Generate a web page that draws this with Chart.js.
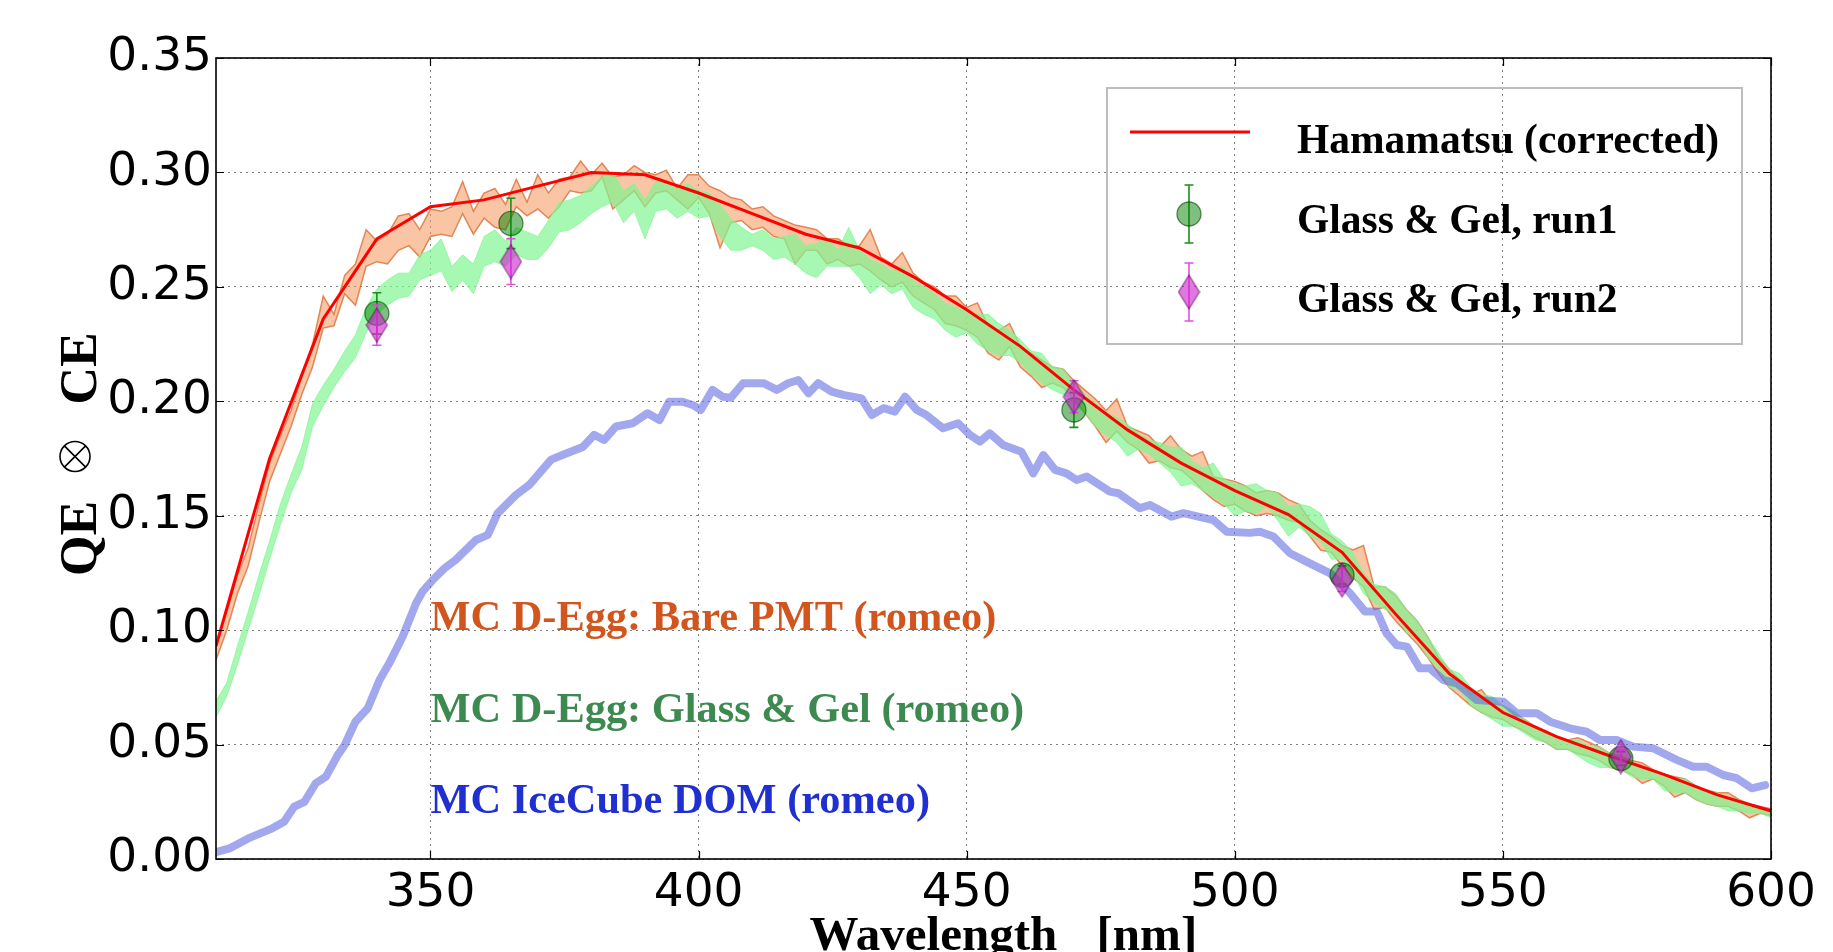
<!DOCTYPE html>
<html>
<head>
<meta charset="utf-8">
<script src="https://cdn.jsdelivr.net/npm/chart.js@4.4.1/dist/chart.umd.min.js"></script>
<style>
  html, body { margin: 0; padding: 0; background: #fff; overflow: hidden; }
  canvas { display: block; }
</style>
</head>
<body>
<canvas id="qe" width="1833" height="952"></canvas>
<script>
/* ===== QE x CE vs wavelength: D-Egg MC bands, Hamamatsu curve, IceCube DOM, measured runs ===== */
const xTicks = [350, 400, 450, 500, 550, 600];
const yTicks = [0, 0.05, 0.10, 0.15, 0.20, 0.25, 0.30, 0.35];

// Hamamatsu (corrected), 10 nm steps
const redNm  = [310, 320, 330, 340, 350, 360, 370, 380, 390, 400, 410, 420, 430, 440, 450,
                460, 470, 480, 490, 500, 510, 520, 530, 540, 550, 560, 570, 580, 590, 600];
const redVal = [0.093, 0.175, 0.236, 0.271, 0.285, 0.288, 0.294, 0.300, 0.299, 0.291, 0.282, 0.273, 0.267, 0.2545, 0.240,
                0.224, 0.205, 0.1875, 0.173, 0.161, 0.1505, 0.134, 0.107, 0.081, 0.064, 0.0535, 0.045, 0.037, 0.028, 0.021];

// MC bands (Bare PMT / Glass & Gel), sampled every 2 nm
const bandNm = [
  310,312,314,316,318, 320,322,324,326,328, 330,332,334,336,338, 340,342,344,346,348,
  350,352,354,356,358, 360,362,364,366,368, 370,372,374,376,378, 380,382,384,386,388,
  390,392,394,396,398, 400,402,404,406,408, 410,412,414,416,418, 420,422,424,426,428,
  430,432,434,436,438, 440,442,444,446,448, 450,452,454,456,458, 460,462,464,466,468,
  470,472,474,476,478, 480,482,484,486,488, 490,492,494,496,498, 500,502,504,506,508,
  510,512,514,516,518, 520,522,524,526,528, 530,532,534,536,538, 540,542,544,546,548,
  550,552,554,556,558, 560,562,564,566,568, 570,572,574,576,578, 580,582,584,586,588,
  590,592,594,596,598, 600];
const bareLo = [
  0.087,0.100,0.116,0.128,0.147, 0.165,0.177,0.189,0.203,0.215, 0.232,0.233,0.247,0.242,0.259, 0.261,0.260,0.266,0.268,0.263,
  0.272,0.273,0.272,0.282,0.273, 0.280,0.276,0.275,0.285,0.281, 0.284,0.280,0.285,0.292,0.291, 0.292,0.298,0.284,0.288,0.292,
  0.285,0.291,0.292,0.288,0.284, 0.289,0.282,0.267,0.278,0.279, 0.275,0.276,0.272,0.271,0.260, 0.266,0.266,0.260,0.262,0.259,
  0.260,0.257,0.253,0.250,0.252, 0.246,0.243,0.240,0.234,0.233, 0.231,0.228,0.221,0.218,0.224, 0.215,0.211,0.206,0.208,0.206,
  0.201,0.195,0.189,0.182,0.187, 0.182,0.179,0.173,0.174,0.171, 0.170,0.166,0.161,0.157,0.154, 0.155,0.152,0.150,0.151,0.150,
  0.148,0.147,0.141,0.135,0.134, 0.128,0.123,0.119,0.109,0.110, 0.104,0.099,0.094,0.088,0.081, 0.075,0.071,0.067,0.064,0.062,
  0.061,0.058,0.056,0.053,0.051, 0.048,0.048,0.046,0.045,0.043, 0.040,0.039,0.037,0.033,0.035, 0.032,0.027,0.029,0.026,0.024,
  0.023,0.023,0.021,0.018,0.020, 0.019];
const bareHi = [
  0.094,0.108,0.124,0.136,0.155, 0.173,0.185,0.196,0.211,0.225, 0.246,0.238,0.255,0.260,0.275, 0.270,0.273,0.281,0.282,0.275,
  0.284,0.283,0.285,0.296,0.283, 0.291,0.293,0.286,0.297,0.287, 0.299,0.291,0.297,0.298,0.305, 0.299,0.304,0.298,0.299,0.303,
  0.300,0.299,0.301,0.293,0.299, 0.299,0.294,0.292,0.289,0.288, 0.284,0.285,0.281,0.279,0.277, 0.276,0.275,0.271,0.271,0.268,
  0.268,0.275,0.263,0.260,0.265, 0.256,0.252,0.250,0.246,0.246, 0.241,0.243,0.233,0.231,0.234, 0.224,0.221,0.218,0.215,0.214,
  0.209,0.205,0.201,0.196,0.201, 0.189,0.187,0.185,0.180,0.185, 0.179,0.176,0.178,0.167,0.166, 0.165,0.163,0.160,0.161,0.160,
  0.157,0.155,0.148,0.144,0.141, 0.137,0.135,0.137,0.119,0.119, 0.115,0.109,0.104,0.097,0.088, 0.083,0.078,0.072,0.074,0.068,
  0.067,0.064,0.061,0.058,0.056, 0.053,0.052,0.053,0.051,0.049, 0.046,0.045,0.043,0.042,0.039, 0.037,0.036,0.035,0.032,0.030,
  0.029,0.029,0.026,0.024,0.023, 0.022];
const gelLo = [
  0.062,0.071,0.085,0.100,0.115, 0.131,0.146,0.160,0.170,0.189, 0.198,0.206,0.213,0.219,0.230, 0.238,0.242,0.245,0.246,0.253,
  0.255,0.257,0.248,0.253,0.247, 0.259,0.261,0.259,0.264,0.262, 0.262,0.267,0.274,0.275,0.278, 0.282,0.285,0.287,0.278,0.283,
  0.271,0.283,0.284,0.280,0.283, 0.280,0.281,0.272,0.266,0.266, 0.268,0.266,0.262,0.263,0.260, 0.256,0.254,0.259,0.259,0.259,
  0.254,0.247,0.251,0.247,0.249, 0.241,0.238,0.236,0.231,0.228, 0.230,0.225,0.222,0.220,0.220, 0.217,0.212,0.208,0.205,0.203,
  0.199,0.195,0.189,0.185,0.182, 0.176,0.179,0.177,0.173,0.169, 0.163,0.164,0.161,0.158,0.155, 0.150,0.152,0.151,0.154,0.148,
  0.141,0.145,0.141,0.139,0.131, 0.131,0.125,0.116,0.112,0.109, 0.107,0.099,0.096,0.088,0.083, 0.075,0.074,0.067,0.064,0.061,
  0.058,0.058,0.055,0.052,0.051, 0.048,0.048,0.045,0.042,0.040, 0.040,0.039,0.036,0.035,0.035, 0.030,0.029,0.029,0.026,0.024,
  0.023,0.021,0.021,0.020,0.020, 0.018];
const gelHi = [
  0.069,0.077,0.093,0.108,0.124, 0.139,0.155,0.168,0.180,0.199, 0.207,0.214,0.222,0.229,0.241, 0.249,0.253,0.256,0.256,0.264,
  0.266,0.271,0.259,0.264,0.260, 0.272,0.275,0.270,0.276,0.274, 0.272,0.279,0.287,0.288,0.290, 0.294,0.298,0.300,0.292,0.295,
  0.288,0.296,0.295,0.293,0.295, 0.292,0.291,0.286,0.280,0.276, 0.273,0.275,0.271,0.272,0.273, 0.268,0.269,0.271,0.266,0.276,
  0.266,0.262,0.260,0.257,0.259, 0.253,0.250,0.247,0.243,0.241, 0.240,0.238,0.238,0.234,0.231, 0.227,0.222,0.221,0.215,0.214,
  0.208,0.203,0.199,0.195,0.193, 0.190,0.186,0.183,0.182,0.180, 0.180,0.174,0.171,0.173,0.166, 0.164,0.163,0.164,0.161,0.160,
  0.154,0.155,0.154,0.151,0.142, 0.139,0.134,0.125,0.120,0.119, 0.116,0.109,0.104,0.097,0.090, 0.083,0.081,0.075,0.072,0.071,
  0.067,0.065,0.061,0.058,0.056, 0.053,0.052,0.052,0.049,0.049, 0.046,0.045,0.042,0.040,0.039, 0.036,0.035,0.035,0.032,0.029,
  0.029,0.027,0.026,0.024,0.023, 0.021];

// MC IceCube DOM
const domNm = [
  310,312.5,316,320.5,322.7,324.6,326.5,328.6,330.5,332.7,
  334,336,338.3,340.5,342.3,344.8,347.3,348.5,350.4,352.6,
  354.7,358.5,360.7,362.5,365.9,368.4,372.5,374.6,378.4,380.5,
  382.4,384.6,387.7,390.5,392.7,394.5,397,398.9,400.4,402.6,
  404.5,406,408.3,412.1,414.6,416.7,418.6,420.5,422.3,424.8,
  427,430.4,432.3,434.5,436.6,438.5,440.7,442.5,445.6,448.4,
  450.6,452.5,454.3,456.8,460.2,462.4,464.3,466.5,468.6,470.5,
  472.4,476.7,478.3,482.3,484.2,488.2,490.4,496,498.5,502.8,
  504.7,507.2,510.3,514,517.8,521.5,524.3,526.5,528.3,530.2,
  532.1,534.5,536.4,538.9,541.4,545.1,550.1,552.6,556.3,558.8,
  562.5,565.6,568.1,571.2,574.3,578,582.4,585.5,588,591.1,
  593.6,596.4,598.9];
const domVal = [
  0.003,0.0046,0.009,0.0134,0.0163,0.0229,0.025,0.0331,0.036,0.0454,
  0.0498,0.060,0.0659,0.0782,0.0855,0.0971,0.1117,0.1168,0.1219,0.127,
  0.1307,0.1394,0.1416,0.151,0.159,0.1634,0.1745,0.1765,0.180,0.1853,
  0.1831,0.189,0.1904,0.1948,0.1918,0.1998,0.1998,0.1984,0.1962,0.205,
  0.202,0.2015,0.2079,0.2079,0.205,0.2079,0.2093,0.2035,0.2079,0.2042,
  0.2028,0.2013,0.194,0.197,0.1955,0.202,0.1962,0.194,0.1882,0.1904,
  0.1853,0.1824,0.186,0.1809,0.178,0.1685,0.1765,0.170,0.1685,0.1656,
  0.1671,0.1605,0.1598,0.1533,0.1547,0.1496,0.1511,0.1481,0.143,0.1425,
  0.143,0.1409,0.1336,0.1292,0.1248,0.1161,0.1081,0.1081,0.0986,0.0935,
  0.0928,0.0833,0.0833,0.0782,0.0768,0.0695,0.0687,0.0637,0.0637,0.060,
  0.0571,0.0556,0.052,0.052,0.0491,0.0484,0.0433,0.0403,0.0403,0.0367,
  0.0353,0.0309,0.0323];

// measured points, Glass & Gel
const runNm   = [340, 365, 470, 520, 572];
const run1Val = [0.2384, 0.2777, 0.1962, 0.1241, 0.0439];
const run1Err = [0.009, 0.011, 0.0076, 0.004, 0.003];
const run2Val = [0.2333, 0.2610, 0.2020, 0.1219, 0.0447];
const run2Err = [0.0088, 0.010, 0.007, 0.005, 0.003];

// in-plot labels
const noteText = ["MC D-Egg: Bare PMT (romeo)", "MC D-Egg: Glass & Gel (romeo)", "MC IceCube DOM (romeo)"];
const noteNm   = [350, 350, 350];
const noteVal  = [0.10, 0.06, 0.02];

/* ---- styles ---- */
const C = {
  red: "#ff0000",
  bareFill: "rgba(245,150,90,0.55)", bareEdge: "rgba(215,105,45,0.75)",
  gelFill: "rgba(130,245,145,0.7)",
  dom: "rgba(100,110,225,0.6)",
  run1Fill: "rgba(0,128,0,0.5)", run1Edge: "rgba(0,70,0,0.6)", run1Bar: "#1b8f1b",
  run2Fill: "rgba(205,30,205,0.6)", run2Edge: "rgba(90,0,90,0.6)", run2Bar: "rgba(225,70,225,0.95)",
  notes: ["#d2551e", "#3d8a50", "#1f2fd0"],
};
const SERIF = "'Liberation Serif', 'DejaVu Serif', serif";
const pts = (xs, ys) => xs.map((x, i) => ({ x, y: ys[i] }));

function thinDiamond(w, h, fill, edge) {
  const c = document.createElement("canvas");
  c.width = w + 2; c.height = h + 2;
  const g = c.getContext("2d");
  g.beginPath();
  g.moveTo(c.width / 2, 1); g.lineTo(w + 1, c.height / 2);
  g.lineTo(c.width / 2, h + 1); g.lineTo(1, c.height / 2); g.closePath();
  g.fillStyle = fill; g.fill();
  g.strokeStyle = edge; g.lineWidth = 1.2; g.stroke();
  return c;
}
const diamond = thinDiamond(21, 34, C.run2Fill, C.run2Edge);

function drawBar(ctx, px, y1, y2, color) {
  ctx.strokeStyle = color; ctx.lineWidth = 1.6;
  ctx.beginPath();
  ctx.moveTo(px, y1); ctx.lineTo(px, y2);
  ctx.moveTo(px - 4.5, y1); ctx.lineTo(px + 4.5, y1);
  ctx.moveTo(px - 4.5, y2); ctx.lineTo(px + 4.5, y2);
  ctx.stroke();
}

/* ---- plugins ---- */
const errorBars = {
  id: "errorBars",
  beforeDatasetDraw(chart, args) {
    const ds = chart.data.datasets[args.index];
    if (!ds.errs) return;
    const { x, y } = chart.scales, ctx = chart.ctx;
    ctx.save();
    ds.data.forEach((p, i) => {
      drawBar(ctx, x.getPixelForValue(p.x), y.getPixelForValue(p.y + ds.errs[i]), y.getPixelForValue(p.y - ds.errs[i]), ds.errColor);
    });
    ctx.restore();
  },
};

const decor = {
  id: "decor",
  afterDatasetsDraw(chart) {
    const { ctx, chartArea: a, scales: { x, y } } = chart;
    ctx.save();

    // in-plot labels
    ctx.font = `bold 42.4px ${SERIF}`;
    ctx.textAlign = "left"; ctx.textBaseline = "alphabetic";
    noteText.forEach((t, i) => {
      ctx.fillStyle = C.notes[i];
      ctx.fillText(t, x.getPixelForValue(noteNm[i]), y.getPixelForValue(noteVal[i]));
    });

    // frame + inward ticks on all sides
    ctx.strokeStyle = "#000"; ctx.lineWidth = 1.6;
    ctx.strokeRect(a.left, a.top, a.right - a.left, a.bottom - a.top);
    ctx.lineWidth = 1.2;
    ctx.beginPath();
    xTicks.forEach((v) => {
      const px = Math.round(x.getPixelForValue(v)) + 0.5;
      ctx.moveTo(px, a.bottom); ctx.lineTo(px, a.bottom - 8);
      ctx.moveTo(px, a.top); ctx.lineTo(px, a.top + 8);
    });
    yTicks.forEach((v) => {
      const py = Math.round(y.getPixelForValue(v)) + 0.5;
      ctx.moveTo(a.left, py); ctx.lineTo(a.left + 8, py);
      ctx.moveTo(a.right, py); ctx.lineTo(a.right - 8, py);
    });
    ctx.stroke();

    // legend box
    const L = { x: a.right - 664, y: a.top + 30, w: 635, h: 256 };
    ctx.strokeStyle = "#bdbdbd"; ctx.lineWidth = 2;
    ctx.strokeRect(L.x, L.y, L.w, L.h);
    ctx.strokeStyle = C.red; ctx.lineWidth = 3;
    ctx.beginPath(); ctx.moveTo(L.x + 23, L.y + 44); ctx.lineTo(L.x + 143, L.y + 44); ctx.stroke();

    const mx = L.x + 82, m1 = L.y + 126, m2 = L.y + 204;
    drawBar(ctx, mx, m1 - 29, m1 + 29, C.run1Bar);
    ctx.beginPath(); ctx.arc(mx, m1, 12, 0, Math.PI * 2);
    ctx.fillStyle = C.run1Fill; ctx.fill();
    ctx.strokeStyle = C.run1Edge; ctx.lineWidth = 1.3; ctx.stroke();
    drawBar(ctx, mx, m2 - 29, m2 + 29, C.run2Bar);
    ctx.drawImage(diamond, mx - diamond.width / 2, m2 - diamond.height / 2);

    ctx.fillStyle = "#000";
    ctx.font = `bold 41.5px ${SERIF}`;
    ctx.fillText("Hamamatsu (corrected)", L.x + 190, L.y + 65);
    ctx.fillText("Glass & Gel, run1", L.x + 190, L.y + 145);
    ctx.fillText("Glass & Gel, run2", L.x + 190, L.y + 224);

    // axis titles
    const cx = (a.left + a.right) / 2, cy = (a.top + a.bottom) / 2;
    ctx.font = `bold 49px ${SERIF}`;
    ctx.fillText("Wavelength", cx - 184, chart.height - 2);
    ctx.fillText("[nm]", cx + 103, chart.height - 2);

    ctx.translate(96, cy);
    ctx.rotate(-Math.PI / 2);
    ctx.textAlign = "center";
    ctx.font = `bold 52px ${SERIF}`;
    ctx.fillText("QE", -80, 0);
    ctx.fillText("CE", 90, 0);
    // thin circled-times operator, as in math mode
    ctx.strokeStyle = "#000"; ctx.lineWidth = 1.6;
    const oc = { x: 2, y: -21, r: 15 }, d = oc.r * Math.SQRT1_2;
    ctx.beginPath();
    ctx.arc(oc.x, oc.y, oc.r, 0, Math.PI * 2);
    ctx.moveTo(oc.x - d, oc.y - d); ctx.lineTo(oc.x + d, oc.y + d);
    ctx.moveTo(oc.x - d, oc.y + d); ctx.lineTo(oc.x + d, oc.y - d);
    ctx.stroke();
    ctx.restore();
  },
};

/* ---- chart ---- */
const lineBase = { pointRadius: 0, clip: 0, tension: 0 };
new Chart(document.getElementById("qe"), {
  type: "line",
  data: {
    datasets: [
      { label: "Glass & Gel, run2", data: pts(runNm, run2Val), errs: run2Err, errColor: C.run2Bar,
        showLine: false, pointStyle: diamond, pointRadius: 17, order: 0 },
      { label: "Glass & Gel, run1", data: pts(runNm, run1Val), errs: run1Err, errColor: C.run1Bar,
        showLine: false, pointStyle: "circle", pointRadius: 12, pointBackgroundColor: C.run1Fill,
        pointBorderColor: C.run1Edge, pointBorderWidth: 1.3, order: 1 },
      { ...lineBase, label: "Hamamatsu (corrected)", data: pts(redNm, redVal), borderColor: C.red, borderWidth: 3, order: 2 },
      { ...lineBase, label: "MC IceCube DOM (romeo)", data: pts(domNm, domVal), borderColor: C.dom, borderWidth: 8,
        borderJoinStyle: "round", borderCapStyle: "round", order: 3 },
      { ...lineBase, label: "gel lo", data: pts(bandNm, gelLo), borderColor: C.gelFill, borderWidth: 1, fill: false, order: 4 },
      { ...lineBase, label: "MC D-Egg: Glass & Gel (romeo)", data: pts(bandNm, gelHi), borderColor: C.gelFill, borderWidth: 1,
        backgroundColor: C.gelFill, fill: "-1", order: 4 },
      { ...lineBase, label: "bare lo", data: pts(bandNm, bareLo), borderColor: C.bareEdge, borderWidth: 1.5, fill: false, order: 5 },
      { ...lineBase, label: "MC D-Egg: Bare PMT (romeo)", data: pts(bandNm, bareHi), borderColor: C.bareEdge, borderWidth: 1.5,
        backgroundColor: C.bareFill, fill: "-1", order: 5 },
    ],
  },
  options: {
    responsive: false, animation: false, events: [],
    layout: { padding: { left: 0, top: 58, right: 62, bottom: 0 } },
    plugins: { legend: { display: false }, tooltip: { enabled: false } },
    scales: {
      x: {
        type: "linear", min: 310, max: 600,
        afterBuildTicks: (s) => { s.ticks = xTicks.map((v) => ({ value: v })); },
        afterFit: (s) => { s.height = 93; },
        ticks: { autoSkip: false, maxRotation: 0, padding: 7, color: "#000",
                 font: { family: "'DejaVu Sans', sans-serif", size: 47 }, callback: (v) => String(v) },
        grid: { color: "rgba(0,0,0,0.5)", lineWidth: 1, drawTicks: false },
        border: { display: false, dash: [2, 4] },
      },
      y: {
        min: 0, max: 0.35,
        afterBuildTicks: (s) => { s.ticks = yTicks.map((v) => ({ value: v })); },
        afterFit: (s) => { s.width = 216; },
        ticks: { autoSkip: false, padding: 4, color: "#000",
                 font: { family: "'DejaVu Sans', sans-serif", size: 47 }, callback: (v) => v.toFixed(2) },
        grid: { color: "rgba(0,0,0,0.5)", lineWidth: 1, drawTicks: false },
        border: { display: false, dash: [2, 4] },
      },
    },
  },
  plugins: [errorBars, decor],
});
</script>
</body>
</html>
